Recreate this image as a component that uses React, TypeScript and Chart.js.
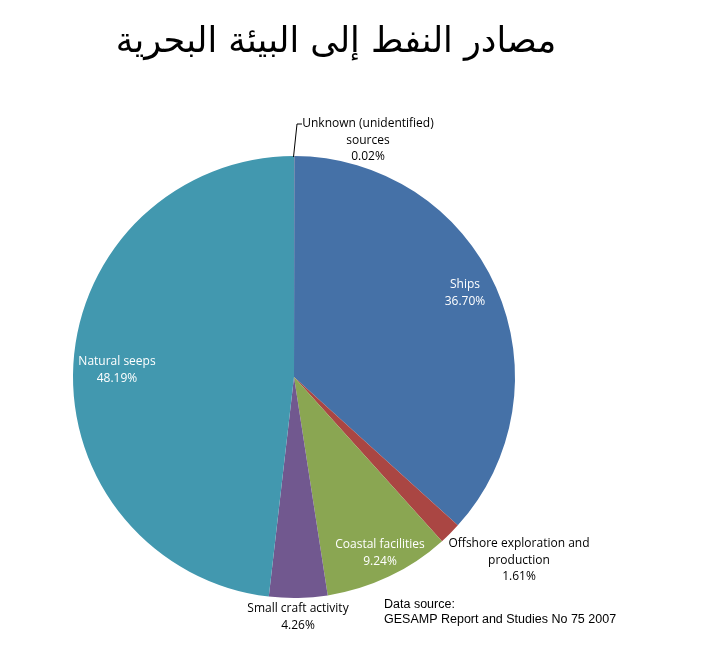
import React, { useEffect, useRef } from "react";
import { Chart, registerables } from "chart.js";

Chart.register(...registerables);

const titleText = "مصادر النفط إلى البيئة البحرية";
const categories = [
  "Unknown (unidentified) sources",
  "Ships",
  "Offshore exploration and production",
  "Coastal facilities",
  "Small craft activity",
  "Natural seeps",
];
const values = [0.02, 36.7, 1.61, 9.24, 4.26, 48.19];
const valueLabels = ["0.02%", "36.70%", "1.61%", "9.24%", "4.26%", "48.19%"];
const colors = ["#DB843D", "#4571A7", "#AA4643", "#8AA652", "#71588F", "#4298AF"];
const labelLines = [
  ["Unknown (unidentified)", "sources"],
  ["Ships"],
  ["Offshore exploration and", "production"],
  ["Coastal facilities"],
  ["Small craft activity"],
  ["Natural seeps"],
];
const sourceLines = ["Data source:", "GESAMP Report and Studies No 75 2007"];

// label anchor positions (center x, first line y) and colour
const labelPos: [number, number, string][] = [
  [368, 124, "#000"],
  [465, 285, "#fff"],
  [519, 544, "#000"],
  [380, 545, "#fff"],
  [298, 609, "#000"],
  [117, 362, "#fff"],
];

const labelPlugin = {
  id: "labels",
  afterDraw(chart: any) {
    const ctx = chart.ctx as CanvasRenderingContext2D;
    ctx.save();
    // title
    ctx.fillStyle = "#000";
    ctx.font = "35px 'DejaVu Sans'";
    ctx.textAlign = "center";
    ctx.textBaseline = "middle";
    ctx.direction = "rtl";
    ctx.fillText(titleText, 336, 43);
    ctx.direction = "ltr";

    const lh = 16.5;
    ctx.font = "12px 'Open Sans'";
    labelPos.forEach((p, i) => {
      const lines = [...labelLines[i], valueLabels[i]];
      ctx.fillStyle = p[2];
      lines.forEach((t, j) => ctx.fillText(t, p[0], p[1] + j * lh));
    });

    // leader line for unknown
    ctx.strokeStyle = "#000";
    ctx.lineWidth = 1;
    ctx.beginPath();
    ctx.moveTo(302, 124);
    ctx.lineTo(297, 124);
    ctx.lineTo(293.5, 157);
    ctx.stroke();

    ctx.fillStyle = "#000";
    ctx.font = "12.5px 'Liberation Sans'";
    ctx.textAlign = "left";
    ctx.fillText(sourceLines[0], 384, 605);
    ctx.fillText(sourceLines[1], 384, 620);
    ctx.restore();
  },
};

export default function App() {
  const ref = useRef<HTMLCanvasElement>(null);
  useEffect(() => {
    if (!ref.current) return;
    const chart = new Chart(ref.current, {
      type: "pie",
      data: {
        labels: categories,
        datasets: [
          {
            data: values,
            backgroundColor: colors,
            borderWidth: 0,
          },
        ],
      },
      options: {
        animation: false,
        responsive: false,
        layout: { padding: { left: 73, right: 205, top: 156, bottom: 53 } },
        plugins: {
          legend: { display: false },
          title: { display: false },
          tooltip: { enabled: false },
        },
      },
      plugins: [labelPlugin],
    });
    return () => chart.destroy();
  }, []);
  return (
    <div style={{ position: "absolute", left: 0, top: 0, width: 720, height: 651, background: "#fff" }}>
      <canvas ref={ref} width={720} height={651} />
    </div>
  );
}
